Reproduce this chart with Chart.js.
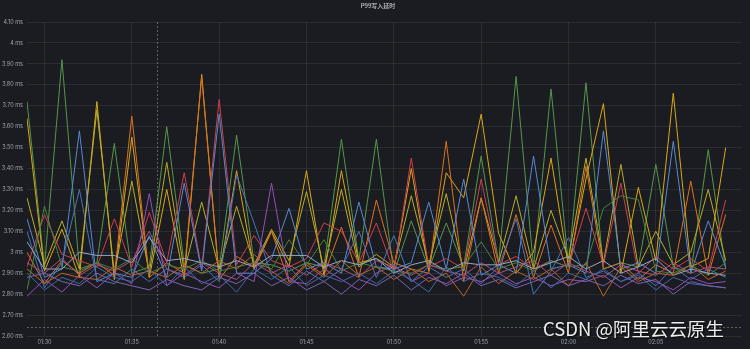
<!DOCTYPE html>
<html>
<head>
<meta charset="utf-8">
<title>P99写入延时</title>
<script src="https://cdn.jsdelivr.net/npm/chart.js@4.4.1/dist/chart.umd.min.js"></script>
<style>
  html, body { margin: 0; padding: 0; background: #1a1c21; }
  #wrap { width: 750px; height: 349px; position: relative; }
</style>
</head>
<body>
<div id="wrap"><canvas id="latency"></canvas></div>
<script>
// sample times, one per minute
const times = [
  "01:29","01:30","01:31","01:32","01:33","01:34","01:35","01:36","01:37","01:38",
  "01:39","01:40","01:41","01:42","01:43","01:44","01:45","01:46","01:47","01:48",
  "01:49","01:50","01:51","01:52","01:53","01:54","01:55","01:56","01:57","01:58",
  "01:59","02:00","02:01","02:02","02:03","02:04","02:05","02:06","02:07","02:08","02:09"
];
const xTickLabels = ["01:30","01:35","01:40","01:45","01:50","01:55","02:00","02:05"];
const yTicks = [2.6, 2.7, 2.8, 2.9, 3.0, 3.1, 3.2, 3.3, 3.4, 3.5, 3.6, 3.7, 3.8, 3.9, 4.0, 4.1];

// p99 write latency per instance (ms)
const greenA = [3.72,2.93,3.92,2.92,2.95,3.52,2.90,2.93,3.60,2.94,2.90,2.92,3.56,2.95,2.94,2.91,2.95,2.93,3.54,2.96,3.54,2.90,3.15,2.92,3.14,2.93,3.46,2.95,3.84,2.93,3.78,2.94,3.81,2.92,2.95,2.93,3.42,2.93,2.90,3.49,2.92];
const yellowB = [3.64,2.91,3.11,2.88,3.72,2.87,3.55,2.88,3.30,2.87,3.85,2.88,3.39,2.92,3.10,2.93,3.39,2.89,3.39,2.95,2.97,2.92,3.40,2.91,3.38,3.26,3.66,3.09,2.90,3.00,3.45,2.93,3.35,3.71,2.90,3.31,2.96,3.76,2.93,2.97,3.50];
const yellowC = [3.26,2.94,3.15,2.92,3.68,2.90,3.34,2.90,3.43,2.91,3.24,2.92,3.22,2.94,3.11,2.96,3.29,2.92,3.30,2.93,2.99,2.93,3.27,2.94,3.28,2.91,3.26,2.95,3.27,2.92,3.20,2.97,3.45,2.95,3.42,2.93,3.10,2.94,3.00,3.30,2.96];
const orangeD = [3.00,2.85,2.96,2.90,2.95,2.89,3.65,2.88,2.95,2.90,3.84,2.87,2.98,2.93,3.10,2.86,2.95,2.89,3.12,2.88,3.25,2.95,2.92,2.90,3.53,2.86,3.26,2.90,3.18,2.88,3.13,2.90,3.41,2.92,2.95,2.87,2.94,2.90,3.34,2.89,3.18];
const redE = [2.93,3.18,2.99,2.96,2.93,3.16,2.93,3.19,2.95,3.38,2.92,3.73,2.94,3.08,2.96,2.93,2.97,3.14,3.10,2.95,3.14,2.91,3.45,2.93,2.97,2.92,3.35,2.94,2.98,2.92,2.96,2.93,3.21,2.94,3.33,2.90,2.98,2.92,2.97,2.91,3.25];
const blueF = [3.16,2.88,2.92,3.58,2.86,2.90,2.88,3.08,2.88,3.33,2.91,3.66,2.90,2.90,2.97,3.21,2.92,2.95,2.90,3.24,2.93,2.92,2.95,3.24,2.92,3.35,2.89,2.94,2.90,3.46,2.92,2.94,2.90,3.58,2.92,2.95,2.90,3.53,2.90,3.15,2.93];
const blueG = [3.10,2.83,2.95,3.30,2.87,2.85,2.92,2.86,2.92,2.88,2.94,2.86,3.37,3.14,2.89,2.84,2.91,2.86,2.92,3.10,2.88,3.08,2.86,2.93,2.88,2.92,2.85,2.93,3.16,2.80,2.91,3.07,2.88,2.91,2.86,2.90,2.84,2.93,2.87,2.92,2.88];
const purpleH = [2.79,2.87,2.81,2.89,2.83,2.90,2.85,3.28,2.84,2.90,2.86,2.83,2.90,2.86,3.33,2.86,2.85,2.92,2.87,2.82,2.90,2.94,2.86,2.90,2.84,2.88,2.86,2.90,2.85,2.88,2.84,2.87,2.86,2.89,2.83,2.88,2.86,2.82,2.88,2.85,2.86];
const paleI = [3.05,2.92,2.92,3.00,2.985,2.985,2.95,3.07,2.96,2.97,2.95,2.93,2.96,2.93,2.985,2.985,2.985,2.93,2.96,2.94,2.97,2.90,2.94,2.96,2.91,2.95,2.94,2.94,2.96,2.92,2.95,2.98,2.92,2.96,2.90,2.93,2.97,2.89,2.92,2.90,2.89];
const orangeJ = [2.92,2.85,2.90,2.88,2.87,2.93,2.89,2.91,2.88,2.94,2.90,2.96,2.92,2.99,2.91,2.85,2.94,2.88,2.96,2.89,2.93,2.87,2.92,2.86,2.90,2.79,2.93,2.85,2.91,2.87,2.92,2.84,2.95,2.79,2.93,2.86,2.90,2.89,2.94,2.87,2.91];
const violetK = [2.88,2.90,2.86,2.84,2.90,2.86,2.84,2.82,2.87,2.84,2.82,2.88,2.85,2.90,2.84,2.88,2.82,2.86,2.80,2.87,2.84,2.89,2.82,2.88,2.85,2.90,2.84,2.87,2.83,2.86,2.89,2.84,2.87,2.84,2.89,2.85,2.87,2.80,2.86,2.84,2.83];
const greenL = [2.82,3.22,2.93,2.91,2.95,2.92,2.97,2.90,2.94,2.92,2.96,2.91,2.93,2.95,2.92,3.06,2.94,3.06,2.91,2.95,2.93,2.91,2.90,2.94,2.92,2.93,3.05,2.92,2.95,2.91,2.96,2.93,2.94,3.21,3.27,3.25,2.91,2.90,2.94,2.89,2.95];
const blueM = [2.90,2.82,2.88,2.85,2.93,2.88,2.86,2.92,2.84,2.93,2.85,2.89,2.81,2.92,2.87,2.93,2.84,2.89,2.86,2.90,2.85,2.91,2.87,2.81,2.93,2.86,2.90,2.88,2.84,2.91,2.83,2.90,2.87,2.92,2.86,2.89,2.82,2.88,2.85,2.84,2.83];
const pinkN = [2.95,2.90,2.97,2.89,2.94,2.91,2.96,3.10,2.92,2.89,2.95,2.90,2.87,2.95,2.90,2.94,2.89,2.95,2.92,2.88,2.96,2.93,2.89,2.94,2.91,2.89,2.95,2.90,2.93,2.96,2.89,2.95,2.91,2.88,2.94,2.91,2.89,2.95,2.90,2.93,2.92];

// hover position of the crosshair
const crossTime = "01:36:28";
const crossValue = 2.645;

const chartTitle = "P99写入延时";
const watermarkText = "CSDN @阿里云云原生";

const toMinutes = t => {
  const p = t.split(":").map(Number);
  return p[0] * 60 + p[1] + (p[2] || 0) / 60;
};
const xs = times.map(toMinutes);

const series = [
  { name: "violet", data: violetK, color: "#7c62ad" },
  { name: "blue3", data: blueM, color: "#3d69a8" },
  { name: "pink", data: pinkN, color: "#a9507c" },
  { name: "orange2", data: orangeJ, color: "#bd6424" },
  { name: "pale", data: paleI, color: "#8fa8cc" },
  { name: "green2", data: greenL, color: "#47843c" },
  { name: "purple", data: purpleH, color: "#9450b5" },
  { name: "blue2", data: blueG, color: "#4773b8" },
  { name: "blue", data: blueF, color: "#5689d4" },
  { name: "red", data: redE, color: "#cf3e4c" },
  { name: "orange", data: orangeD, color: "#dc711e" },
  { name: "yellow2", data: yellowC, color: "#b9ad28" },
  { name: "yellow", data: yellowB, color: "#dba810" },
  { name: "green", data: greenA, color: "#56964a" }
];

const datasets = series.map(s => ({
  label: s.name,
  data: s.data.map((v, i) => ({ x: xs[i], y: v })),
  borderColor: s.color,
  borderWidth: 1,
  pointRadius: 0,
  tension: 0,
  fill: false
}));

const crosshair = {
  id: "crosshair",
  afterDatasetsDraw(chart) {
    const { ctx, chartArea, scales } = chart;
    const px = scales.x.getPixelForValue(toMinutes(crossTime));
    const py = scales.y.getPixelForValue(crossValue);
    ctx.save();
    ctx.lineWidth = 1;
    ctx.setLineDash([2, 2]);
    ctx.strokeStyle = "rgba(190,195,200,0.4)";
    ctx.beginPath();
    ctx.moveTo(Math.round(px) + 0.5, chartArea.top);
    ctx.lineTo(Math.round(px) + 0.5, chartArea.bottom);
    ctx.stroke();
    ctx.strokeStyle = "rgba(120,165,135,0.55)";
    ctx.beginPath();
    ctx.moveTo(chartArea.left, Math.round(py) + 0.5);
    ctx.lineTo(chartArea.right, Math.round(py) + 0.5);
    ctx.stroke();
    ctx.restore();
  }
};

// panel title and the watermark in the corner
const overlay = {
  id: "overlay",
  afterDraw(chart) {
    const { ctx, chartArea } = chart;
    ctx.save();
    ctx.font = '500 6px "Noto Sans CJK SC", Inter, sans-serif';
    ctx.fillStyle = "#c5cad2";
    ctx.textAlign = "center";
    ctx.textBaseline = "middle";
    ctx.fillText(chartTitle, chart.width / 2 + 3, 6);

    ctx.font = '18.5px "Noto Sans CJK SC", "Noto Sans", sans-serif';
    ctx.textAlign = "right";
    ctx.textBaseline = "alphabetic";
    ctx.shadowColor = "rgba(0,0,0,0.9)";
    ctx.shadowBlur = 2;
    ctx.shadowOffsetX = 1;
    ctx.shadowOffsetY = 1;
    ctx.fillStyle = "rgba(255,255,255,0.92)";
    ctx.fillText(watermarkText, chartArea.right - 18, chartArea.bottom);
    ctx.restore();
  }
};

const bgFill = {
  id: "bgFill",
  beforeDraw(chart) {
    const { ctx, width, height } = chart;
    ctx.save();
    ctx.fillStyle = "#1a1c21";
    ctx.fillRect(0, 0, width, height);
    ctx.restore();
  }
};

const tickFont = { family: "Inter, Roboto, sans-serif", size: 5.5 };

new Chart(document.getElementById("latency"), {
  type: "line",
  data: { datasets },
  plugins: [bgFill, crosshair, overlay],
  options: {
    responsive: true,
    maintainAspectRatio: false,
    animation: false,
    layout: { padding: { left: 0, right: 8, top: 22, bottom: 0 } },
    plugins: {
      legend: { display: false },
      tooltip: { enabled: false },
      title: { display: false }
    },
    scales: {
      x: {
        type: "linear",
        min: toMinutes("01:29"),
        max: toMinutes("02:09:56"),
        afterBuildTicks: s => { s.ticks = xTickLabels.map(t => ({ value: toMinutes(t) })); },
        afterFit: s => { s.height = 13; },
        border: { display: false },
        grid: { color: "rgba(255,255,255,0.07)", drawTicks: false },
        ticks: {
          color: "#9ba3ad",
          font: tickFont,
          padding: 3,
          maxRotation: 0,
          callback: v => {
            const h = Math.floor(v / 60), m = Math.round(v % 60);
            return String(h).padStart(2, "0") + ":" + String(m).padStart(2, "0");
          }
        }
      },
      y: {
        min: 2.6,
        max: 4.1,
        afterBuildTicks: s => { s.ticks = yTicks.map(v => ({ value: v })); },
        afterFit: s => { s.width = 27; },
        border: { display: false },
        grid: { color: "rgba(255,255,255,0.07)", drawTicks: false },
        ticks: {
          color: "#9ba3ad",
          font: tickFont,
          padding: 4,
          callback: v => (Math.abs(v - Math.round(v)) < 1e-6 ? Math.round(v) : v.toFixed(2)) + " ms"
        }
      }
    }
  }
});
</script>
</body>
</html>
